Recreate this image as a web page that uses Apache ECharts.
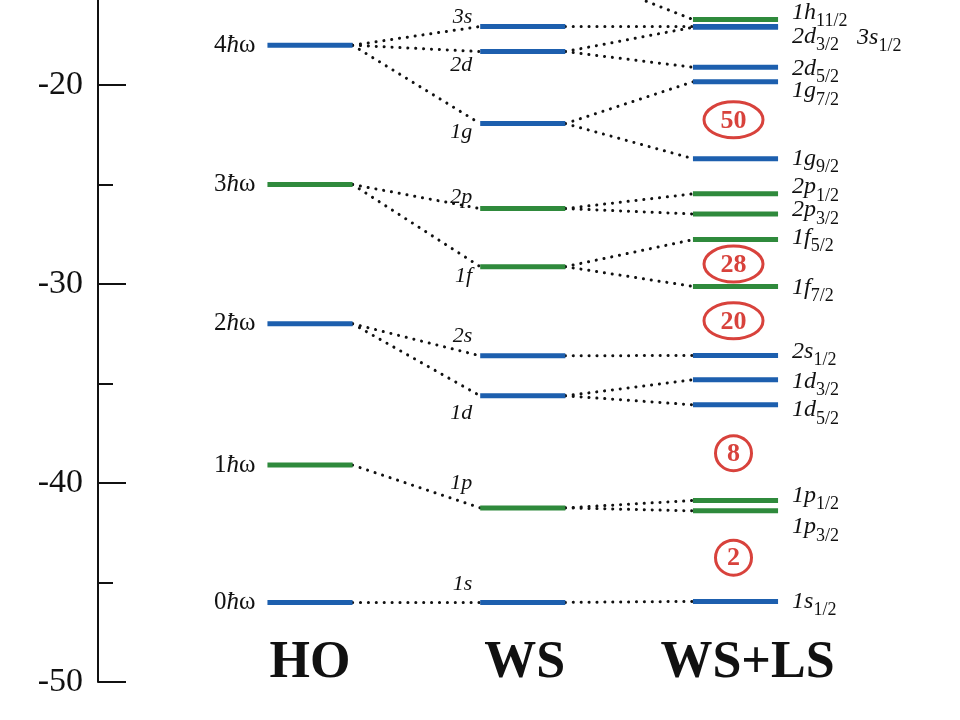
<!DOCTYPE html>
<html><head><meta charset="utf-8">
<script src="https://cdn.jsdelivr.net/npm/echarts@6/dist/echarts.min.js"></script>
<style>html,body{margin:0;padding:0;background:#fff}#c{width:960px;height:720px}</style>
</head><body><div id="c"></div>
<script>
// ---------------- data ----------------
const columns = ['HO', 'WS', 'WS+LS'];

const hoNames  = ['0ħω', '1ħω', '2ħω', '3ħω', '4ħω'];
const hoEnergy = [-46.0, -39.1, -32.0, -25.0, -18.0];

const wsNames  = ['1s', '1p', '1d', '2s', '1f', '2p', '1g', '2d', '3s', '1h'];
const wsEnergy = [-46.0, -41.25, -35.62, -33.61, -29.13, -26.21, -21.94, -18.32, -17.06, -14.2];
const wsParent = [0, 1, 2, 2, 3, 3, 4, 4, 4, null];

const lsNames  = ['1s1/2', '1p3/2', '1p1/2', '1d5/2', '1d3/2', '2s1/2', '1f7/2', '1f5/2',
                  '2p3/2', '2p1/2', '1g9/2', '1g7/2', '2d5/2', '2d3/2', '3s1/2', '1h11/2'];
const lsEnergy = [-45.95, -41.4, -40.88, -36.07, -34.81, -33.59, -30.12, -27.77,
                  -26.48, -25.47, -23.7, -19.84, -19.11, -17.1, -17.06, -16.71];
const lsParent = [0, 1, 1, 2, 2, 3, 4, 4, 5, 5, 6, 6, 7, 7, 8, 9];

const magicNumbers = ['2', '8', '20', '28', '50'];
const magicEnergy  = [-43.75, -38.5, -31.85, -29.0, -21.75];

const yTickValues = [-50, -40, -30, -20];

// ---------------- layout / style (not data) ----------------
const HALF = 0.2;
const BLUE = '#1d5fae', GREEN = '#2f8a3c', RED = '#d8423c', INK = '#111';
const SERIF = '"Liberation Serif","Times New Roman",serif';
const wsLabelDy = [-18, -25, 17, -20, 10, -11, 9, 14, -9, -9];
const lsLabelDy = [0, 16, -5, 5, 2, -4, 1, -2, -4, -7, 0, 9, 1, 9, 11, -7];
const lsLabelDx = [0, 0, 0, 0, 0, 0, 0, 0, 0, 0, 0, 0, 0, 0, 65, 0];
const titleDx = [0, 2, 12];

function orbitalColor(name) {
  const m = name.match(/[spdfgh]/);
  return 'sdg'.indexOf(m[0]) >= 0 ? BLUE : GREEN;
}
function hoColor(name) { return parseInt(name, 10) % 2 === 0 ? BLUE : GREEN; }

function levelLine(api, col, e, color) {
  const p1 = api.coord([col - HALF, e]);
  const p2 = api.coord([col + HALF, e]);
  return { type: 'line', shape: { x1: p1[0], y1: p1[1], x2: p2[0], y2: p2[1] },
           style: { stroke: color, lineWidth: 5, lineCap: 'butt' } };
}

// ---------------- series data ----------------
const hoData = hoNames.map((n, i) => [0, hoEnergy[i], i]);
const wsData = wsNames.map((n, i) => [1, wsEnergy[i], i]);
const lsData = lsNames.map((n, i) => [2, lsEnergy[i], i]);

const linkData = [];
wsParent.forEach((p, i) => { if (p !== null) linkData.push([0, hoEnergy[p], 1, wsEnergy[i]]); });
lsParent.forEach((p, i) => { linkData.push([1, wsEnergy[p], 2, lsEnergy[i]]); });

const magicData = magicNumbers.map((m, i) => [2, magicEnergy[i], i]);
const titleData = columns.map((c, i) => [i, -50, i]);

const chart = echarts.init(document.getElementById('c'), null, { renderer: 'canvas' });

chart.setOption({
  animation: false,
  backgroundColor: '#fff',
  grid: { left: 98, right: 0, top: -114, bottom: 38, outerBoundsMode: 'none', containLabel: false },
  xAxis: { type: 'value', min: -0.9965, max: 3.0552, show: false },
  yAxis: {
    type: 'value', min: -50, max: -10, interval: 10,
    axisLine: { show: true, onZero: false, lineStyle: { color: INK, width: 2 } },
    axisTick: { show: true, inside: true, length: 28, lineStyle: { color: INK, width: 2 } },
    minorTick: { show: true, splitNumber: 2, length: 15, lineStyle: { color: INK, width: 2 } },
    axisLabel: { fontFamily: SERIF, fontSize: 34, color: INK, margin: 15,
      formatter: v => (yTickValues.indexOf(v) >= 0 ? String(v) : '') },
    splitLine: { show: false }
  },
  series: [
    { // dotted connectors
      type: 'custom', data: linkData, encode: { x: [0, 2], y: [1, 3] }, z: 1,
      renderItem(params, api) {
        const p1 = api.coord([api.value(0) + HALF, api.value(1)]);
        const p2 = api.coord([api.value(2) - HALF, api.value(3)]);
        return { type: 'line', shape: { x1: p1[0], y1: p1[1], x2: p2[0], y2: p2[1] },
                 style: { stroke: INK, lineWidth: 3, lineCap: 'round', lineDash: [0.1, 7.8] } };
      }
    },
    { // HO levels
      type: 'custom', data: hoData, encode: { x: 0, y: 1 }, z: 3,
      renderItem(params, api) {
        const i = api.value(2), name = hoNames[i], e = api.value(1);
        const p = api.coord([0 - HALF, e]);
        return { type: 'group', children: [
          levelLine(api, 0, e, hoColor(name)),
          { type: 'text', x: p[0] - 12, y: p[1],
            style: { text: '{n|' + name[0] + '}{h|ħ}{n|ω}', align: 'right', verticalAlign: 'middle',
              textAlign: 'right', textVerticalAlign: 'middle', fill: INK,
              rich: { n: { fontFamily: SERIF, fontSize: 25, fill: INK },
                      h: { fontFamily: SERIF, fontSize: 25, fontStyle: 'italic', fill: INK } } } }
        ] };
      }
    },
    { // WS levels
      type: 'custom', data: wsData, encode: { x: 0, y: 1 }, z: 3,
      renderItem(params, api) {
        const i = api.value(2), name = wsNames[i], e = api.value(1);
        const p = api.coord([1 - HALF, e]);
        return { type: 'group', children: [
          levelLine(api, 1, e, orbitalColor(name)),
          { type: 'text', x: p[0] - 8, y: p[1] + wsLabelDy[i],
            style: { text: name, align: 'right', verticalAlign: 'middle',
              textAlign: 'right', textVerticalAlign: 'middle', fill: INK,
              font: 'italic 22px ' + SERIF } }
        ] };
      }
    },
    { // WS+LS levels
      type: 'custom', data: lsData, encode: { x: 0, y: 1 }, z: 3,
      renderItem(params, api) {
        const i = api.value(2), name = lsNames[i], e = api.value(1);
        const p = api.coord([2 + HALF, e]);
        const m = name.match(/^(\d[a-z])(.*)$/);
        return { type: 'group', children: [
          levelLine(api, 2, e, orbitalColor(name)),
          { type: 'text', x: p[0] + 14 + lsLabelDx[i], y: p[1] + lsLabelDy[i],
            style: { text: '{m|' + m[1] + '}{s|' + m[2] + '}', align: 'left', verticalAlign: 'middle',
              textAlign: 'left', textVerticalAlign: 'middle', fill: INK,
              rich: {
                m: { fontFamily: SERIF, fontSize: 24, fontStyle: 'italic', fill: INK, lineHeight: 36 },
                s: { fontFamily: SERIF, fontSize: 18, fill: INK, verticalAlign: 'bottom' } } } }
        ] };
      }
    },
    { // magic numbers
      type: 'custom', data: magicData, encode: { x: 0, y: 1 }, z: 4,
      renderItem(params, api) {
        const i = api.value(2), txt = magicNumbers[i];
        const c = api.coord([api.value(0), api.value(1)]);
        const two = txt.length > 1;
        return { type: 'group', children: [
          { type: 'ellipse', shape: { cx: c[0] - 2, cy: c[1], rx: two ? 29.5 : 18, ry: two ? 18 : 17.5 },
            style: { fill: '#fff', stroke: RED, lineWidth: 3 } },
          { type: 'text', x: c[0] - 2, y: c[1] + 1,
            style: { text: txt, align: 'center', verticalAlign: 'middle', textAlign: 'center',
              textVerticalAlign: 'middle', fill: RED, font: 'bold 26px ' + SERIF } }
        ] };
      }
    },
    { // column titles
      type: 'custom', data: titleData, encode: { x: 0, y: 1 }, z: 4,
      renderItem(params, api) {
        const i = api.value(2);
        const c = api.coord([api.value(0), api.value(1)]);
        return { type: 'text', x: c[0] + titleDx[i], y: c[1] - 18,
          style: { text: columns[i], align: 'center', verticalAlign: 'middle', textAlign: 'center',
            textVerticalAlign: 'middle', fill: INK, font: 'bold 52px ' + SERIF } };
      }
    }
  ]
});
</script>
</body></html>
